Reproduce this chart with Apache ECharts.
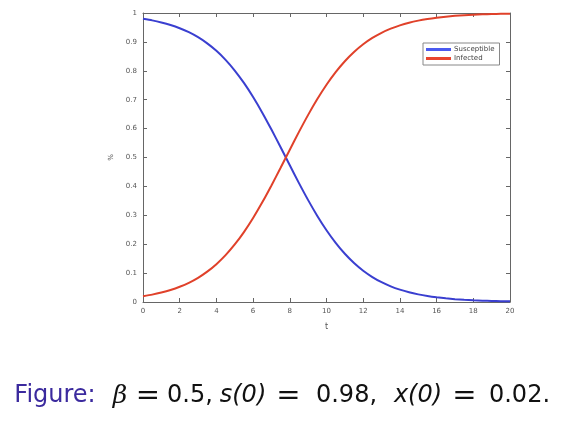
<!DOCTYPE html>
<html><head><meta charset="utf-8">
<script src="https://cdn.jsdelivr.net/npm/echarts@6/dist/echarts.min.js"></script>
<style>html,body{margin:0;padding:0;background:#fff}#c{width:561px;height:423px}</style>
</head><body><div id="c"></div>
<script>
var tValues = [0,0.5,1,1.5,2,2.5,3,3.5,4,4.5,5,5.5,6,6.5,7,7.5,8,8.5,9,9.5,10,10.5,11,11.5,12,12.5,13,13.5,14,14.5,15,15.5,16,16.5,17,17.5,18,18.5,19,19.5,20];
var infected = [0.02,0.0255,0.0326,0.0414,0.0526,0.0665,0.0838,0.1051,0.131,0.1622,0.1991,0.242,0.2907,0.3448,0.4033,0.4646,0.527,0.5886,0.6475,0.7023,0.7518,0.7955,0.8332,0.8651,0.8917,0.9136,0.9314,0.9457,0.9572,0.9664,0.9736,0.9793,0.9838,0.9874,0.9901,0.9923,0.994,0.9953,0.9963,0.9972,0.9978];
var susceptible = [0.98,0.9745,0.9674,0.9586,0.9474,0.9335,0.9162,0.8949,0.869,0.8378,0.8009,0.758,0.7093,0.6552,0.5967,0.5354,0.473,0.4114,0.3525,0.2977,0.2482,0.2045,0.1668,0.1349,0.1083,0.0864,0.0686,0.0543,0.0428,0.0336,0.0264,0.0207,0.0162,0.0126,0.0099,0.0077,0.006,0.0047,0.0037,0.0028,0.0022];
var seriesNames = ['Susceptible','Infected'];
var captionParts = ['Figure:', 'β', '=', '0.5,', 's(0)', '=', '0.98,', 'x(0)', '=', '0.02.'];

function pairs(ys){ return tValues.map(function(t,i){return [t, ys[i]];}); }
var axisCol = '#666';
var lblStyle = {color:'#555', fontSize:7, fontFamily:'DejaVu Sans'};
function xAx(pos, show){
  return {type:'value', position:pos, min:0, max:20, interval:2,
    axisLine:{show:true, onZero:false, lineStyle:{color:axisCol, width:1}},
    axisTick:{show:true, inside:true, length:4, lineStyle:{color:axisCol}},
    axisLabel:Object.assign({show:show, margin:6, formatter:function(v){return String(v);}}, lblStyle),
    splitLine:{show:false},
    name: show ? 't' : '', nameLocation:'middle', nameGap:21,
    nameTextStyle:{color:'#555', fontSize:8, fontFamily:'DejaVu Sans'}};
}
function yAx(pos, show){
  return {type:'value', position:pos, min:0, max:1, interval:0.1,
    axisLine:{show:true, onZero:false, lineStyle:{color:axisCol, width:1}},
    axisTick:{show:true, inside:true, length:4, lineStyle:{color:axisCol}},
    axisLabel:Object.assign({show:show, margin:6, formatter:function(v){return String(Math.round(v*10)/10);}}, lblStyle),
    splitLine:{show:false},
    name: show ? '%' : '', nameLocation:'middle', nameGap:17, nameRotate:90,
    nameTextStyle:{color:'#555', fontSize:7, fontFamily:'DejaVu Sans'}};
}
// caption layout (positions only)
var capCX = [55, 120, 148, 190, 243, 288.5, 346.5, 418, 464.5, 519.5];
var capFont = ['24px "DejaVu Sans"', 'italic 25px "DejaVu Serif"', '29px "DejaVu Sans"', '24px "DejaVu Sans"',
  'italic 24px "DejaVu Sans"', '29px "DejaVu Sans"', '24px "DejaVu Sans"', 'italic 24px "DejaVu Sans"', '29px "DejaVu Sans"', '24px "DejaVu Sans"'];
var graphics = captionParts.map(function(s, i){
  return {type:'text', x:capCX[i], y:396,
    style:{text:s, font:capFont[i], fill: i===0 ? '#3b2a9e' : '#111', align:'center', verticalAlign:'middle'}};
});

var chart = echarts.init(document.getElementById('c'), null, {renderer:'canvas'});
chart.setOption({
  backgroundColor:'#fff',
  animation:false,
  grid:{left:143, right:51, top:13, bottom:121, containLabel:false},
  xAxis:[xAx('bottom', true), xAx('top', false)],
  yAxis:[yAx('left', true), yAx('right', false)],
  legend:{
    orient:'vertical', left:423, top:43, itemGap:2, padding:[3,5,3,3],
    backgroundColor:'#fff', borderColor:'#888', borderWidth:1,
    itemWidth:25, itemHeight:3, icon:'rect',
    textStyle:{color:'#444', fontSize:7, fontFamily:'DejaVu Sans', padding:[0,0,0,-2]},
    data:seriesNames
  },
  series:[
    {name:seriesNames[0], type:'line', data:pairs(susceptible), smooth:0.2,
     showSymbol:false, lineStyle:{color:'#3a3fd0', width:2}, itemStyle:{color:'#4a5af0'}, xAxisIndex:0, yAxisIndex:0},
    {name:seriesNames[1], type:'line', data:pairs(infected), smooth:0.2,
     showSymbol:false, lineStyle:{color:'#e0412a', width:2}, itemStyle:{color:'#e8452f'}, xAxisIndex:0, yAxisIndex:0}
  ],
  graphic:graphics
});
</script></body></html>
